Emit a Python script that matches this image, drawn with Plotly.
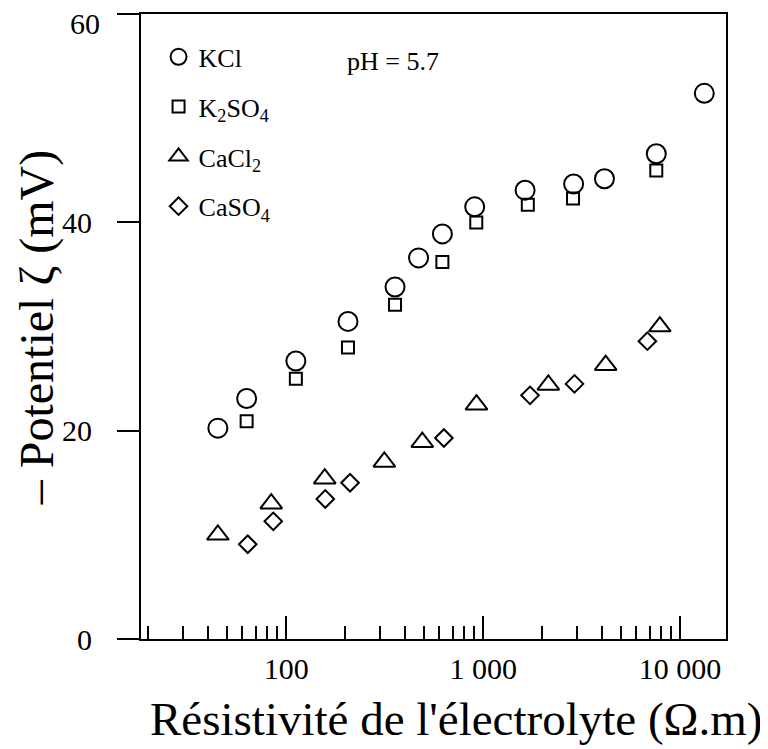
import plotly.graph_objects as go

# Data
kcl_x = [45, 63, 112, 206, 357, 470, 621, 906, 1633, 2880, 4130, 7570, 13270]
kcl_y = [20.25, 23.1, 26.7, 30.5, 33.8, 36.6, 38.9, 41.5, 43.1, 43.7, 44.2, 46.6, 52.4]

k2so4_x = [63, 112, 206, 357, 621, 923, 1686, 2860, 7570]
k2so4_y = [20.9, 25.0, 28.0, 32.1, 36.2, 40.0, 41.7, 42.3, 45.0]

cacl2_x = [45, 84, 157, 315, 491, 925, 2143, 4190, 7890]
cacl2_y = [10.0, 13.0, 15.4, 17.0, 18.9, 22.5, 24.4, 26.3, 30.0]

caso4_x = [63.8, 86, 158, 211, 632, 1730, 2910, 6820]
caso4_y = [9.1, 11.3, 13.45, 15.0, 19.3, 23.4, 24.5, 28.6]

x_tickvals = [100, 1000, 10000]
x_ticktext = ["100", "1 000", "10 000"]
x_minor = [20, 30, 40, 50, 60, 70, 80, 90,
           200, 300, 400, 500, 600, 700, 800, 900,
           2000, 3000, 4000, 5000, 6000, 7000, 8000, 9000]
y_tickvals = [0, 20, 40, 60]
y_ticktext = ["0", "20", "40", "60"]

FONT = "Liberation Serif, Times New Roman, serif"

series = [
    ("KCl", kcl_x, kcl_y, "circle-open", 19),
    ("K<sub>2</sub>SO<sub>4</sub>", k2so4_x, k2so4_y, "square-open", 12),
    ("CaCl<sub>2</sub>", cacl2_x, cacl2_y, "triangle-up-open", 19),
    ("CaSO<sub>4</sub>", caso4_x, caso4_y, "diamond-open", 13.5),
]

fig = go.Figure()
for i, (name, xs, ys, sym, sz) in enumerate(series):
    fig.add_trace(go.Scatter(
        x=xs, y=ys, mode="markers", name=name, legendgroup=f"g{i}",
        marker=dict(symbol=sym, size=sz, color="black",
                    line=dict(color="black", width=2)),
    ))

# top tick label is drawn as an annotation (it sits just below its tick, as in the reference)
axis_ticktext = y_ticktext[:-1] + [""]

fig.update_layout(
    width=760, height=741,
    margin=dict(l=133, r=42, t=4, b=110),
    paper_bgcolor="white", plot_bgcolor="white",
    font=dict(family=FONT, color="black"),
    showlegend=True,
    legend=dict(x=0.030, y=0.969, xanchor="left", yanchor="top",
                bgcolor="rgba(0,0,0,0)", font=dict(size=26, family=FONT),
                tracegroupgap=13, itemsizing="trace"),
    xaxis=dict(
        type="log", range=[1.263, 4.233],
        tickmode="array", tickvals=x_tickvals, ticktext=x_ticktext,
        ticks="inside", ticklen=23, tickwidth=2, tickcolor="black",
        minor=dict(tickvals=x_minor, ticks="inside", ticklen=13,
                   tickwidth=2, tickcolor="black"),
        showline=True, linecolor="black", linewidth=2, mirror=True,
        showgrid=False, zeroline=False,
        tickfont=dict(size=30, family=FONT),
        ticklabelstandoff=2,
    ),
    yaxis=dict(
        range=[0, 60.02], tickmode="array", tickvals=y_tickvals, ticktext=axis_ticktext,
        ticks="outside", ticklen=22, tickwidth=2, tickcolor="black",
        showline=True, linecolor="black", linewidth=2, mirror=True,
        showgrid=False, zeroline=False,
        tickfont=dict(size=30, family=FONT),
        ticklabelstandoff=19,
    ),
    annotations=[
        dict(text=y_ticktext[-1], xref="paper", yref="y",
             x=-0.0667, y=y_tickvals[-1], xanchor="right", yanchor="middle", yshift=-9,
             showarrow=False, font=dict(size=30, family=FONT)),
        dict(text="Résistivité de l'électrolyte (Ω.m)", xref="paper", yref="paper",
             x=0.538, y=-0.128, xanchor="center", yanchor="middle",
             showarrow=False, font=dict(size=47, family=FONT)),
        dict(text="– Potentiel ζ (mV)", xref="paper", yref="paper",
             x=-0.1786, y=0.498, xanchor="center", yanchor="middle", textangle=-90,
             showarrow=False, font=dict(size=48, family=FONT)),
        dict(text="pH = 5.7", xref="paper", yref="paper",
             x=0.349, y=0.924, xanchor="left", yanchor="middle",
             showarrow=False, font=dict(size=26, family=FONT)),
    ],
)

fig.write_html("out.html")
